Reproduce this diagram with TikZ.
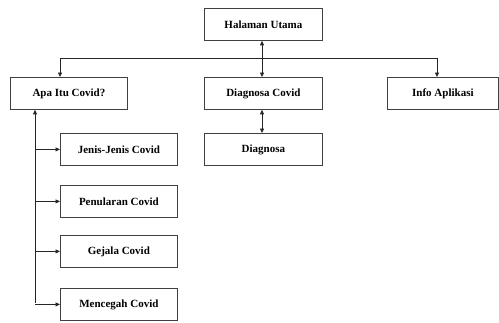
\documentclass[tikz,border=0pt]{standalone}
\usepackage{fontspec}
\setmainfont{Liberation Serif}
\usetikzlibrary{arrows.meta}
\begin{document}
\begin{tikzpicture}[x=1pt,y=-1pt,
  menubox/.style={draw=black!75, line width=0.8pt, minimum width=117pt, minimum height=32pt,
    inner sep=0pt, font=\fontsize{11}{13}\selectfont\bfseries, anchor=north west},
  link/.style={draw=black!85, line width=0.8pt, -{Triangle[length=4.5pt,width=4pt]}},
  twoway/.style={draw=black!85, line width=0.8pt, {Triangle[length=4.5pt,width=4pt]}-{Triangle[length=4.5pt,width=4pt]}}]
\useasboundingbox (0,0) rectangle (499,322);
% menu boxes
\node[menubox, minimum width=118pt] (home) at (204,8) {Halaman Utama};
\node[menubox] (apa) at (10,77) {Apa Itu Covid?};
\node[menubox, minimum width=118pt] (diag) at (204,77) {Diagnosa Covid};
\node[menubox, minimum width=111pt] (info) at (387,77) {Info Aplikasi};
\node[menubox, minimum width=118pt] (dg) at (204,133) {Diagnosa};
\node[menubox] (jenis) at (60,133) {Jenis-Jenis Covid};
\node[menubox] (penular) at (60,185) {Penularan Covid};
\node[menubox] (gejala) at (60,235) {Gejala Covid};
\node[menubox] (cegah) at (60,288) {Mencegah Covid};
% branch points
\coordinate (busL) at (60,58);
\coordinate (busR) at (437,58);
\coordinate (spine) at (35,303);
% top level links
\draw[link] (busL) -- (busL |- apa.north);
\draw[draw=black!85, line width=0.8pt] (busL) -- (busR);
\draw[link] (busR) -- (busR |- info.north);
\draw[twoway] (home.south -| 262,0) -- (diag.north -| 262,0);
\draw[twoway] (diag.south -| 262,0) -- (dg.north -| 262,0);
% sub menu links
\draw[draw=black!85, line width=0.8pt, -{Triangle[length=4.5pt,width=4pt]}] (spine) -- (spine |- apa.south);
\foreach \s in {jenis,penular,gejala,cegah}
  \draw[link] (spine |- \s.west) -- (\s.west);
\end{tikzpicture}
\end{document}
